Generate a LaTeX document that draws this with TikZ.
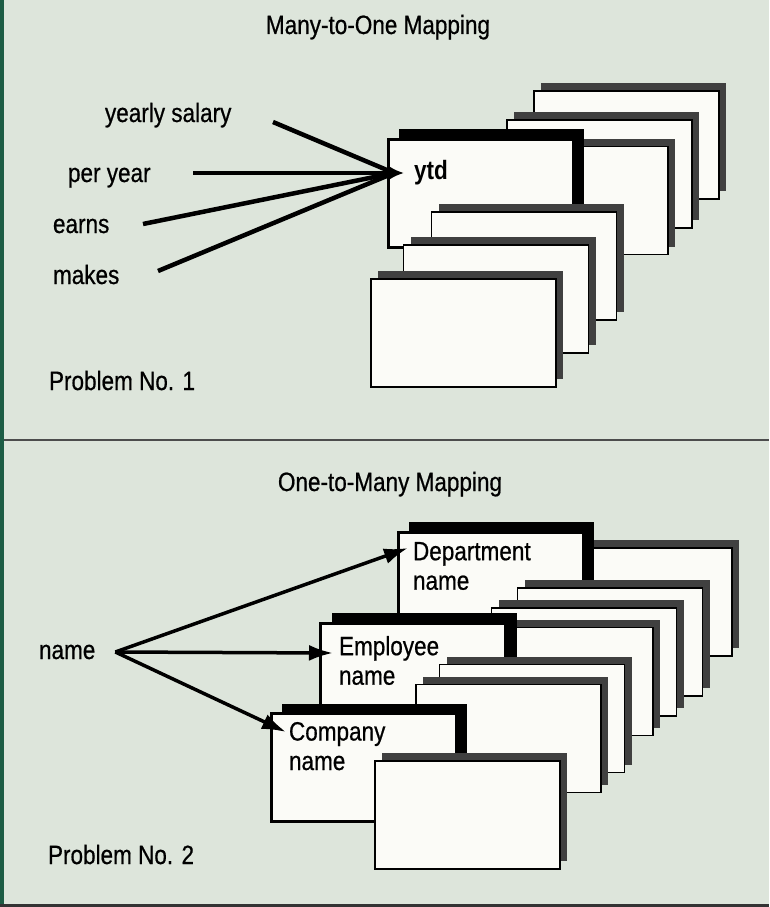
\documentclass[tikz,border=0pt]{standalone}
\usepackage{fontspec}
\setmainfont{Liberation Sans}[FakeStretch=0.85, UprightFeatures={FakeBold=0.6}]
\usetikzlibrary{arrows.meta,calc,positioning,shadows}
\definecolor{paper}{RGB}{221,229,219}
\definecolor{cardwhite}{RGB}{251,251,247}
\definecolor{edgegreen}{RGB}{28,92,68}
\tikzset{
  basecard/.style={draw, fill=cardwhite, minimum width=185pt, minimum height=108pt, inner sep=0pt, outer sep=0pt},
  card/.style={basecard, line width=1.6pt, drop shadow={shadow xshift=7pt, shadow yshift=8pt, fill=black!75, opacity=1}},
  pickedcard/.style={basecard, line width=3pt, drop shadow={shadow xshift=11pt, shadow yshift=10pt, fill=black, opacity=1}},
  word/.style={inner sep=0pt, outer sep=0pt, align=left, font=\fontsize{26.5}{29.5}\selectfont},
  fanline/.style={line width=4.5pt},
  fanarrow/.style={line width=3.5pt, -{Latex[length=24pt,width=16pt]}}
}

\begin{document}
\begin{tikzpicture}[x=1pt,y=-1pt]
  \useasboundingbox (0,0) rectangle (769,907);
  \fill[paper] (0,0) rectangle (769,907);
  \fill[edgegreen] (0,0) rectangle (4,907);
  \draw[line width=1.5pt, black!70] (4,440) -- (769,440);
  \draw[line width=3pt, black!80] (0,905.5) -- (769,905.5);

  % problem 1: many words point at one field
  \node[word, anchor=base] (title1) at (378,34) {Many-to-One Mapping};

  \node[card] (back1) at (626.5,145) {};
  \node[card] (back2) at (599.5,174) {};
  \node[card] (back3) at (575.5,200.5) {};
  \node[pickedcard] (ytd) at (480.5,193) {};
  \node[word, anchor=base west] (ytdtext) at (414,179) {\bfseries ytd};
  \node[card] (front1) at (524,266) {};
  \node[card] (front2) at (496,299) {};
  \node[card] (front3) at (463.5,333) {};

  \node[word, anchor=base west] (yearly) at (105,122) {yearly salary};
  \node[word, anchor=base west] (peryear) at (68,182) {per year};
  \node[word, anchor=base west] (earns) at (53,233) {earns};
  \node[word, anchor=base west] (makes) at (53,284) {makes};
  \node[word, anchor=base west] (prob1) at (49,390) {Problem No. 1};

  \coordinate (hub) at (394,173);
  \coordinate (yearlyfoot) at (273,122);
  \coordinate (peryearfoot) at (193,173);
  \coordinate (earnsfoot) at (143,224);
  \coordinate (makesfoot) at (158,271);
  \draw[fanline] (yearlyfoot) -- (hub);
  \draw[fanline] (earnsfoot) -- (hub);
  \draw[fanline] (makesfoot) -- (hub);
  \draw[fanline, -{Latex[length=15pt,width=14pt]}, shorten >=10pt] (peryearfoot) -- (peryearfoot -| ytdtext.west);

  % problem 2: one word points at many fields
  \node[word, anchor=base] (title2) at (390,491) {One-to-Many Mapping};

  \node[card] (deptback) at (639.5,602) {};
  \node[pickedcard] (dept) at (490.5,586) {};
  \node[word, anchor=north west] (depttext) at (413,542) {Department\\name};
  \node[card] (mid1) at (610,642) {};
  \node[card] (mid2) at (584,662) {};
  \node[card] (mid3) at (560.5,681.5) {};
  \node[pickedcard] (emp) at (413,677) {};
  \node[word, anchor=north west] (emptext) at (339,636) {Employee\\name};
  \node[card] (low1) at (532,718.5) {};
  \node[card] (low2) at (508.5,738.5) {};
  \node[pickedcard] (comp) at (363.5,767.5) {};
  \node[word, anchor=north west] (comptext) at (289,722) {Company\\name};
  \node[card] (low3) at (467.5,815) {};

  \node[word, anchor=base west] (name) at (39,659) {name};
  \node[word, anchor=base west] (prob2) at (48,864) {Problem No. 2};

  \coordinate (fan) at ([xshift=20pt]name.east);
  \draw[fanarrow] (fan) -- ([shift={(-5pt,-6pt)}]depttext.north west);
  \draw[fanarrow] (fan) -- ([shift={(-6pt,-17pt)}]emptext.north west);
  \draw[fanarrow] (fan) -- ([shift={(-3pt,-10pt)}]comptext.north west);
\end{tikzpicture}
\end{document}
